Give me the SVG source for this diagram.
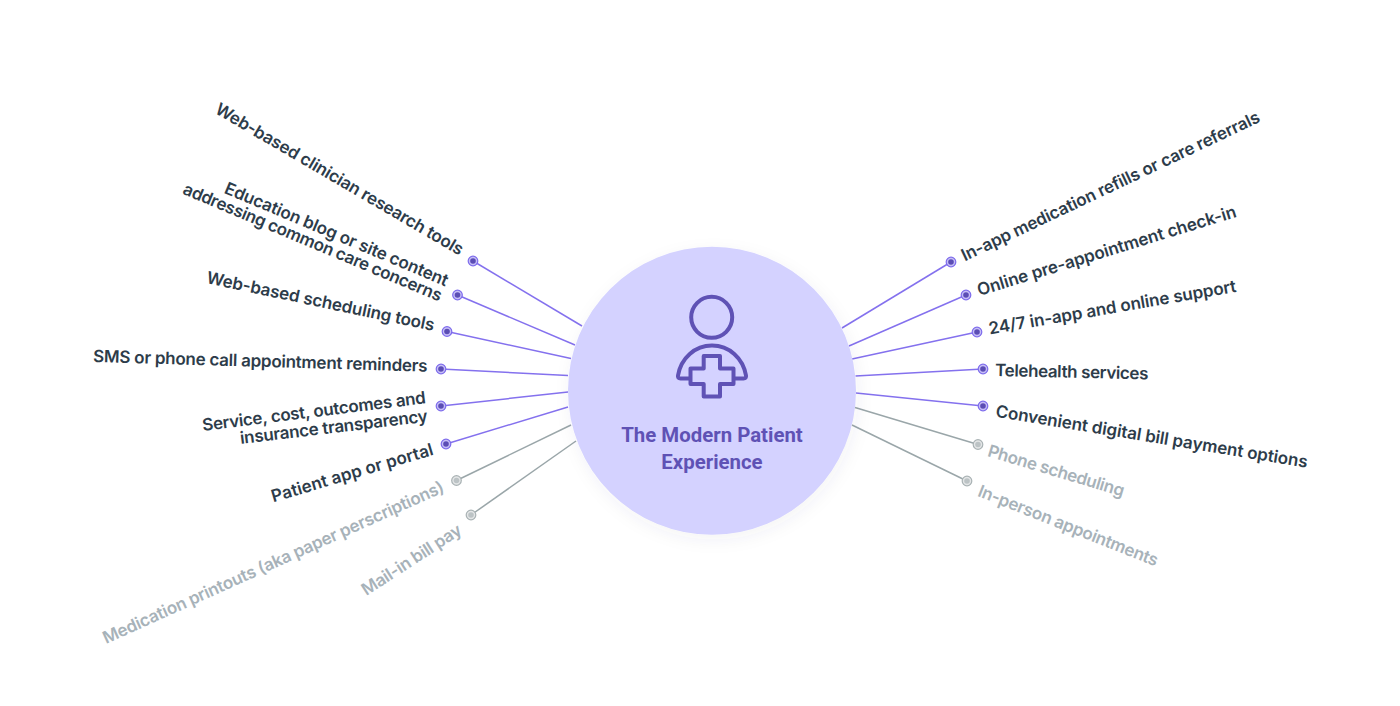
<svg xmlns="http://www.w3.org/2000/svg" width="1400" height="706" viewBox="0 0 1400 706">
<style>
.t{font-family:"Inter","Liberation Sans",sans-serif;font-size:17px;font-weight:600}
.d{fill:#2d3c4a}
.g{fill:#a7b2b9}
.l{stroke-width:1.5;fill:none}
.lp{stroke:#8471ee}
.lg{stroke:#9aa6a9}
.op{fill:#c6bef6;stroke:#7d6bec;stroke-width:1.2}
.ip{fill:#5b4db5}
.og{fill:#e4e6e7;stroke:#a9b2b4;stroke-width:1.2}
.ig{fill:#bcc3c5}
.ic{fill:none;stroke:#5f52b5;stroke-width:4;stroke-linejoin:round}
.h{font-family:"Roboto","Liberation Sans",sans-serif;font-size:20.400px;font-weight:700;fill:#5f52b5;text-anchor:middle}
</style>
<defs>
<filter id="sh" x="-20%" y="-20%" width="140%" height="140%"><feDropShadow dx="2" dy="5" stdDeviation="8" flood-color="#3a3a5a" flood-opacity="0.06"/></filter>
</defs>
<rect width="1400" height="706" fill="#ffffff"/>
<g id="connectors">
<line class="l lp" x1="582" y1="326" x2="473" y2="261"/>
<line class="l lp" x1="575" y1="345" x2="457.500" y2="295"/>
<line class="l lp" x1="571" y1="358.500" x2="447" y2="331.500"/>
<line class="l lp" x1="568" y1="375.500" x2="441" y2="369"/>
<line class="l lp" x1="568" y1="392" x2="441" y2="406"/>
<line class="l lp" x1="568" y1="407" x2="446" y2="444"/>
<line class="l lg" x1="571" y1="425" x2="456.500" y2="480.500"/>
<line class="l lg" x1="576" y1="441" x2="471" y2="515"/>
<line class="l lp" x1="842" y1="328" x2="951" y2="262"/>
<line class="l lp" x1="849" y1="346" x2="966" y2="295"/>
<line class="l lp" x1="852" y1="359" x2="977" y2="332"/>
<line class="l lp" x1="855.500" y1="376" x2="983" y2="369"/>
<line class="l lp" x1="856" y1="393" x2="983" y2="406"/>
<line class="l lg" x1="855" y1="407.500" x2="978" y2="444.500"/>
<line class="l lg" x1="852" y1="425" x2="967" y2="481"/>
</g>
<g id="center">
<circle cx="712" cy="390.700" r="144" fill="#d4d2ff" filter="url(#sh)"/>
<circle class="ic" cx="711.700" cy="317.300" r="20.500"/>
<path class="ic" d="M690 378.500H680.500Q677.500 378.500 678 375.500C681 358 695 345.500 712 345.500C729 345.500 743 358 746 375.500Q746.500 378.500 743.500 378.500H733"/>
<path class="ic" d="M703.700 356H720V368.500H733.500V384H720V396.500H703.700V384H690.500V368.500H703.700Z"/>
<text class="h" x="712" y="442">The Modern Patient</text>
<text class="h" x="712" y="469">Experience</text>
</g>
<g id="n1"><circle class="op" cx="473" cy="261" r="4.800"/><circle class="ip" cx="473" cy="261" r="2.800"/><text class="t d" transform="translate(214 112.500) rotate(30.300)" textLength="284">Web-based clinician research tools</text></g>
<g id="n2"><circle class="op" cx="457.500" cy="295" r="4.800"/><circle class="ip" cx="457.500" cy="295" r="2.800"/><text class="t d" transform="translate(223.300 192.700) rotate(22.900)" textLength="241">Education blog or site content</text><text class="t d" transform="translate(181.800 193.500) rotate(22.800)" textLength="279">addressing common care concerns</text></g>
<g id="n3"><circle class="op" cx="447" cy="331.500" r="4.800"/><circle class="ip" cx="447" cy="331.500" r="2.800"/><text class="t d" transform="translate(205.700 283) rotate(11.900)" textLength="232.500">Web-based scheduling tools</text></g>
<g id="n4"><circle class="op" cx="441" cy="369" r="4.800"/><circle class="ip" cx="441" cy="369" r="2.800"/><text class="t d" transform="translate(93 362) rotate(1.660)" textLength="334.500">SMS or phone call appointment reminders</text></g>
<g id="n5"><circle class="op" cx="441" cy="406" r="4.800"/><circle class="ip" cx="441" cy="406" r="2.800"/><text class="t d" transform="translate(203 431) rotate(-7.100)" textLength="225">Service, cost, outcomes and</text><text class="t d" transform="translate(240.700 444) rotate(-6.800)" textLength="188.900">insurance transparency</text></g>
<g id="n6"><circle class="op" cx="446" cy="444" r="4.800"/><circle class="ip" cx="446" cy="444" r="2.800"/><text class="t d" transform="translate(273.300 502.300) rotate(-16.500)" textLength="168">Patient app or portal</text></g>
<g id="n7"><circle class="og" cx="456.500" cy="480.500" r="4.800"/><circle class="ig" cx="456.500" cy="480.500" r="2.800"/><text class="t g" transform="translate(106 644) rotate(-24.200)" textLength="372">Medication printouts (aka paper perscriptions)</text></g>
<g id="n8"><circle class="og" cx="471" cy="515" r="4.800"/><circle class="ig" cx="471" cy="515" r="2.800"/><text class="t g" transform="translate(366.300 596) rotate(-33)" textLength="115.400">Mail-in bill pay</text></g>
<g id="n9"><circle class="op" cx="951" cy="262" r="4.800"/><circle class="ip" cx="951" cy="262" r="2.800"/><text class="t d" transform="translate(964.700 261.500) rotate(-25.300)" textLength="328">In-app medication refills or care referrals</text></g>
<g id="n10"><circle class="op" cx="966" cy="295" r="4.800"/><circle class="ip" cx="966" cy="295" r="2.800"/><text class="t d" transform="translate(979.300 296) rotate(-17.100)" textLength="270">Online pre-appointment check-in</text></g>
<g id="n11"><circle class="op" cx="977" cy="332" r="4.800"/><circle class="ip" cx="977" cy="332" r="2.800"/><text class="t d" transform="translate(989.700 334.500) rotate(-9.800)" textLength="251">24/7 in-app and online support</text></g>
<g id="n12"><circle class="op" cx="983" cy="369" r="4.800"/><circle class="ip" cx="983" cy="369" r="2.800"/><text class="t d" transform="translate(995 376) rotate(1.250)" textLength="153.400">Telehealth services</text></g>
<g id="n13"><circle class="op" cx="983" cy="406" r="4.800"/><circle class="ip" cx="983" cy="406" r="2.800"/><text class="t d" transform="translate(995 416.700) rotate(9.300)" textLength="315.800">Convenient digital bill payment options</text></g>
<g id="n14"><circle class="og" cx="978" cy="444.500" r="4.800"/><circle class="ig" cx="978" cy="444.500" r="2.800"/><text class="t g" transform="translate(986.700 456) rotate(16.700)" textLength="141.600">Phone scheduling</text></g>
<g id="n15"><circle class="og" cx="967" cy="481" r="4.800"/><circle class="ig" cx="967" cy="481" r="2.800"/><text class="t g" transform="translate(976.700 495.700) rotate(21.600)" textLength="192.300">In-person appointments</text></g>
</svg>
